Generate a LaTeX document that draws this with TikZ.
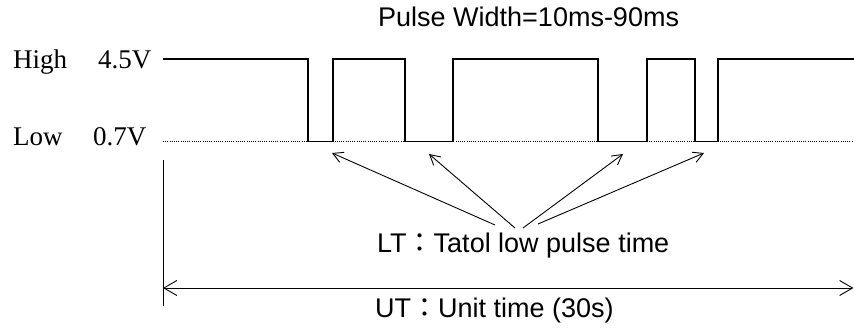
\documentclass[tikz,border=0pt]{standalone}
\usepackage{fontspec}
\setmainfont{Liberation Serif}
\setsansfont{Liberation Sans}
\newfontfamily\cjk{Noto Sans CJK TC}
\usetikzlibrary{arrows.meta}
\begin{document}
\begin{tikzpicture}[x=1pt,y=-1pt,
  wave/.style={line width=1.6pt},
  lowlevel/.style={line width=0.9pt, dash pattern=on 1pt off 1.2pt},
  thinline/.style={line width=0.9pt},
  lta/.style={thinline,-{Straight Barb[length=10pt,width=11pt,line width=0.9pt]}},
  uta/.style={thinline,{Straight Barb[length=13pt,width=15pt,line width=0.9pt]}-{Straight Barb[length=13pt,width=15pt,line width=0.9pt]}},
  ser/.style={font=\fontsize{27}{30}\selectfont, anchor=base west, inner sep=0pt},
  san/.style={font=\sffamily\fontsize{27}{30}\selectfont, anchor=base west, inner sep=0pt},
]
\useasboundingbox (0,0) rectangle (854,328);
% labels
\node[ser] (high) at (13,69) {High};
\node[ser] (hv) at (98,69) {4.5V};
\node[ser] (low) at (13,146) {Low};
\node[ser] (lv) at (93,146) {0.7V};
\node[san] (pw) at (378,27) {Pulse Width=10ms-90ms};
\node[san] (lt) at (377,253) {LT{\cjk ：}Tatol low pulse time};
\node[san] (ut) at (375,318) {UT{\cjk ：}Unit time (30s)};
% levels
\coordinate (ws) at (163,59);
\coordinate (we) at (854,59);
\coordinate (ls) at (163,141.5);
\coordinate (le) at (854,141.5);
\draw[lowlevel] (ls) -- (le);
\draw[wave] (ws) -| (308,141.5) -| (333,59) -| (405,141.5) -| (453,59)
  -| (598,141.5) -| (647,59) -| (695,141.5) -| (718,59) -- (we);
% LT arrows
\coordinate (a1) at (332,153);
\coordinate (a2) at (429,154);
\coordinate (a3) at (623,154);
\coordinate (a4) at (704,153);
\coordinate (t1) at (495,225);
\coordinate (t2) at (515,228);
\coordinate (t3) at (523,228);
\coordinate (t4) at (538,224);
\draw[lta] (t1) -- (a1);
\draw[lta] (t2) -- (a2);
\draw[lta] (t3) -- (a3);
\draw[lta] (t4) -- (a4);
% UT
\coordinate (vt) at (163,160);
\coordinate (vb) at (163,306);
\draw[thinline] (vt) -- (vb);
\coordinate (ul) at (163,288);
\coordinate (ur) at (853.5,288);
\draw[uta] (ul) -- (ur);
\end{tikzpicture}
\end{document}
